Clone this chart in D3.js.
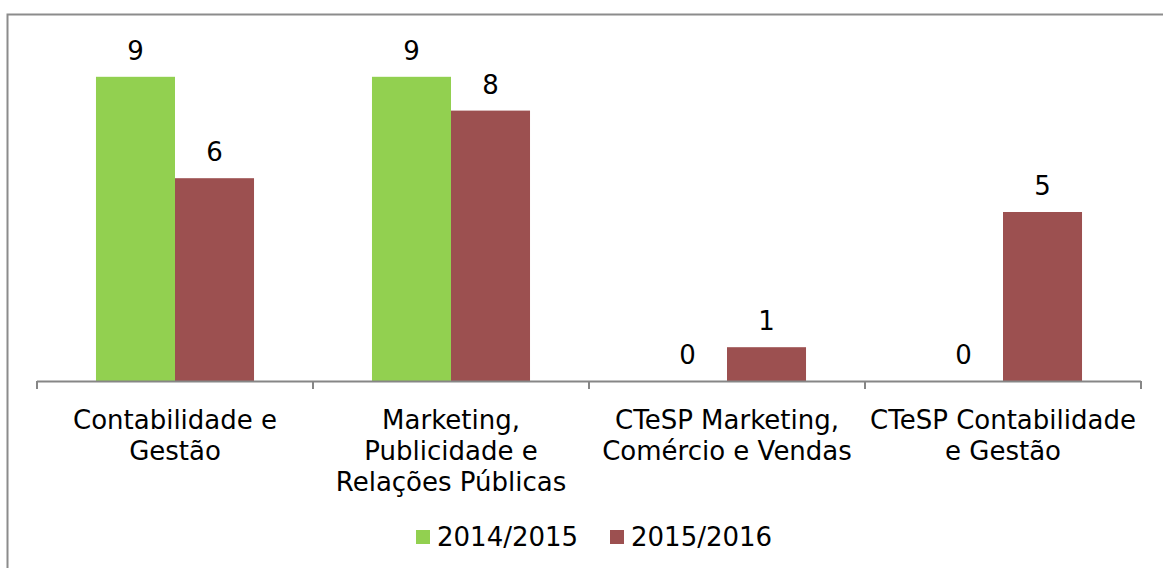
<!DOCTYPE html>
<html>
<head>
<meta charset="utf-8">
<script src="https://cdn.jsdelivr.net/npm/d3@7"></script>
<style>
  body { margin: 0; background: #fff; }
  text { font-family: "DejaVu Sans", Verdana, sans-serif; fill: #000; }
</style>
</head>
<body>
<div id="chart"></div>
<script>
const categories = [
  ["Contabilidade e", "Gestão"],
  ["Marketing,", "Publicidade e", "Relações Públicas"],
  ["CTeSP Marketing,", "Comércio e Vendas"],
  ["CTeSP Contabilidade", "e Gestão"],
];
const seriesNames = ["2014/2015", "2015/2016"];
const values2014 = [9, 9, 0, 0];
const values2015 = [6, 8, 1, 5];
const colors = ["#92D050", "#9C5050"];

const width = 1163, height = 568;
const fontSize = 26;
const svg = d3.select("#chart").append("svg")
  .attr("width", width)
  .attr("height", height);

svg.append("rect")
  .attr("x", 7.5).attr("y", 14.5)
  .attr("width", width + 10).attr("height", height + 10)
  .attr("fill", "#fff")
  .attr("stroke", "#8c8c8c")
  .attr("stroke-width", 2);

const idx = d3.range(categories.length);
const x = d3.scaleBand().domain(idx).range([37, 1141]).paddingInner(0).paddingOuter(0);
const inner = d3.scaleBand().domain([0, 1]).range([0, x.bandwidth()]).paddingOuter(0.7464).paddingInner(0);
const y = d3.scaleLinear().domain([0, 10]).range([381, 43]);

const series = [values2014, values2015];
const g = svg.append("g");

series.forEach((vals, s) => {
  g.selectAll(`.bar${s}`)
    .data(vals)
    .join("rect")
    .attr("x", (d, i) => x(i) + inner(s))
    .attr("y", d => y(d))
    .attr("width", inner.bandwidth())
    .attr("height", d => y(0) - y(d))
    .attr("fill", colors[s]);

  g.selectAll(`.lab${s}`)
    .data(vals)
    .join("text")
    .attr("x", (d, i) => x(i) + inner(s) + inner.bandwidth() / 2)
    .attr("y", d => y(d) - 17)
    .attr("text-anchor", "middle")
    .attr("font-size", fontSize)
    .text(d => d);
});

// axis line and category ticks
const axis = svg.append("g");
axis.append("line")
  .attr("x1", x.range()[0]).attr("x2", x.range()[1])
  .attr("y1", y(0) + 0.5).attr("y2", y(0) + 0.5)
  .attr("stroke", "#868686").attr("stroke-width", 2);
axis.selectAll(".tick")
  .data(d3.range(categories.length + 1))
  .join("line")
  .attr("x1", i => i < categories.length ? x(i) : x.range()[1])
  .attr("x2", i => i < categories.length ? x(i) : x.range()[1])
  .attr("y1", y(0)).attr("y2", y(0) + 8)
  .attr("stroke", "#868686").attr("stroke-width", 2);

axis.selectAll(".cat")
  .data(categories)
  .join("text")
  .attr("text-anchor", "middle")
  .attr("font-size", fontSize)
  .attr("transform", (d, i) => `translate(${x(i) + x.bandwidth() / 2},429)`)
  .selectAll("tspan")
  .data(d => d)
  .join("tspan")
  .attr("x", 0)
  .attr("y", (d, j) => j * 31)
  .text(d => d);

// legend
const legendX = [416, 610];
const legend = svg.append("g");
seriesNames.forEach((name, s) => {
  legend.append("rect")
    .attr("x", legendX[s]).attr("y", 530)
    .attr("width", 14).attr("height", 14)
    .attr("fill", colors[s]);
  legend.append("text")
    .attr("x", legendX[s] + 21).attr("y", 546)
    .attr("font-size", fontSize)
    .text(name);
});
</script>
</body>
</html>
